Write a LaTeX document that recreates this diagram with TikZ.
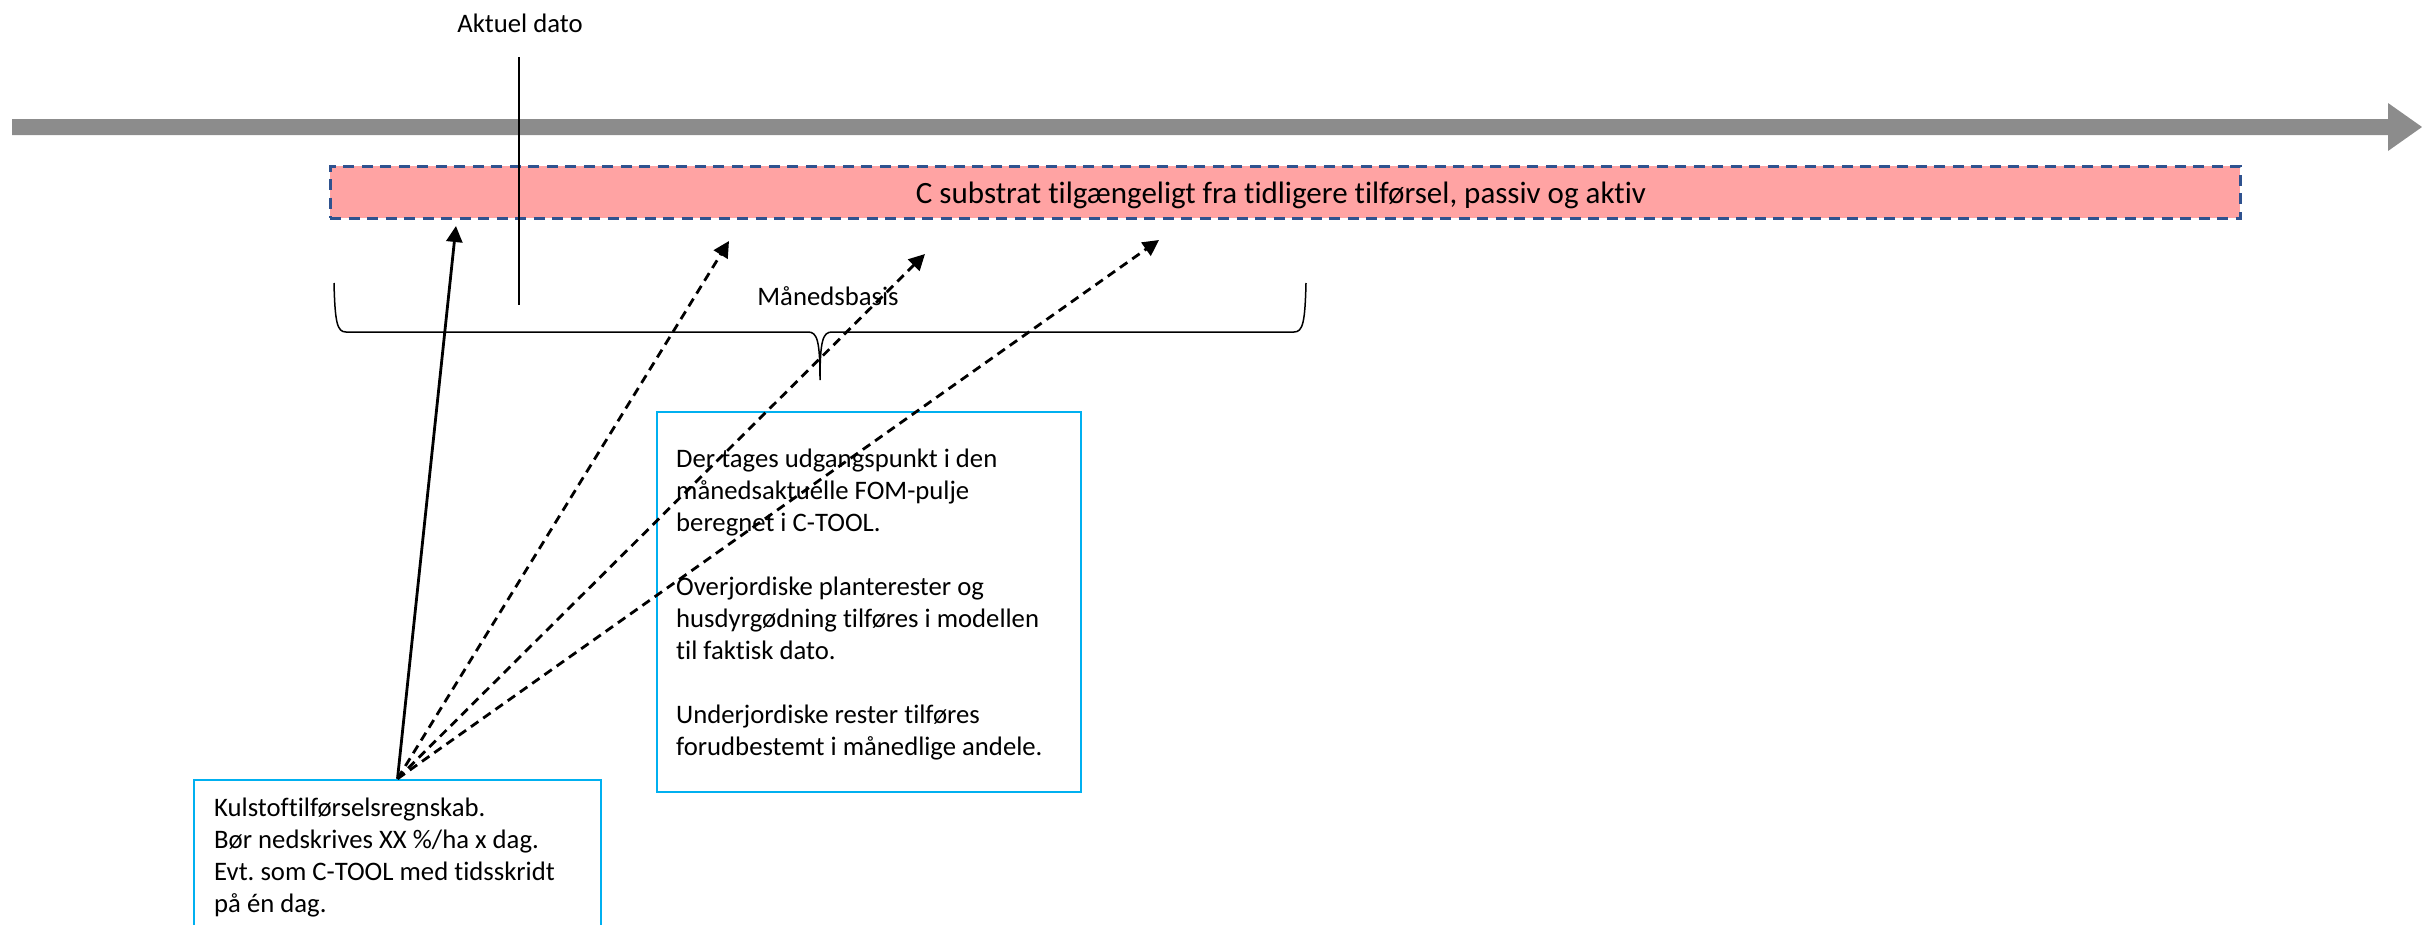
\documentclass[tikz,border=0pt]{standalone}
\usepackage{fontspec}
\setmainfont{Carlito}[Ligatures=NoCommon]
\frenchspacing
\usetikzlibrary{arrows.meta}
\definecolor{axisgray}{HTML}{8C8C8C}
\definecolor{subpink}{HTML}{FFA3A3}
\definecolor{dashblue}{HTML}{2F528F}
\definecolor{boxcyan}{HTML}{00B0F0}
\tikzset{
  lbl/.style={font=\fontsize{26.7}{32}\selectfont, inner sep=0pt, anchor=base},
  bigl/.style={font=\fontsize{31}{37}\selectfont, inner sep=0pt, anchor=base},
  pinkbox/.style={draw=dashblue, fill=subpink, line width=3pt, dash pattern=on 11pt off 7.5pt, minimum width=1910pt, minimum height=52pt, inner sep=0pt},
  infobox/.style={draw=boxcyan, line width=2.5pt, inner sep=0pt},
  boxtext/.style={font=\fontsize{26.7}{32}\selectfont, inner sep=0pt, anchor=base west},
  arr/.style={line width=2.8pt, -{Triangle[length=16pt,width=16pt]}},
  darr/.style={arr, dash pattern=on 9pt off 6pt},
  thinl/.style={line width=1.3pt},
}
\begin{document}
\begin{tikzpicture}[x=1pt,y=-1pt]
\useasboundingbox (0,0) rectangle (2422,924);
% time axis
\fill[axisgray] (12,119) -- (2388,119) -- (2388,103) -- (2422,127) -- (2388,151) -- (2388,135) -- (12,135) -- cycle;
% substrate bar
\node[pinkbox] (csub) at (1285,192) {};
\node[bigl] (csubtxt) at (1281,203) {C substrat tilgængeligt fra tidligere tilførsel, passiv og aktiv};
% current date
\node[lbl] (now) at (520,32) {Aktuel dato};
\coordinate (nowtop) at (519,57);
\coordinate (nowbot) at (519,305);
\draw[thinl] (nowtop) -- (nowbot);
% brace
\coordinate (brl) at (334,283);
\coordinate (brr) at (1306,283);
\coordinate (brtip) at (820,380);
\draw[line width=1.5pt] (brl) .. controls (335,322) and (337,332) .. (346,332) -- (808,332)
   .. controls (817,332) and (820,340) .. (brtip)
   .. controls (820,340) and (823,332) .. (832,332) -- (1294,332)
   .. controls (1303,332) and (1305,322) .. (brr);
\node[lbl] (month) at (828,305) {Månedsbasis};
% info box 2
\node[infobox, minimum width=424pt, minimum height=380pt] (box2) at (869,602) {};
\node[boxtext] (box2txt) at (676,467) {\parbox[t]{400pt}{\raggedright
Der tages udgangspunkt i den\\
månedsaktuelle FOM-pulje\\
beregnet i C-TOOL.\\[32pt]
Overjordiske planterester og\\
husdyrgødning tilføres i modellen\\
til faktisk dato.\\[32pt]
Underjordiske rester tilføres\\
forudbestemt i månedlige andele.}};
% info box 1
\node[infobox, minimum width=407pt, minimum height=180pt] (box1) at (397.5,870) {};
\node[boxtext] (box1txt) at (214,816) {\parbox[t]{380pt}{\raggedright
Kulstoftilførselsregnskab.\\
Bør nedskrives XX \%/ha x dag.\\
Evt. som C-TOOL med tidsskridt\\
på én dag.}};
% arrows
\coordinate (t1) at (456,226);
\coordinate (t2) at (729,241);
\coordinate (t3) at (925,254);
\coordinate (t4) at (1159,240);
\draw[arr] (box1.north) -- (t1);
\draw[darr] (box1.north) -- (t2);
\draw[darr] (box1.north) -- (t3);
\draw[darr] (box1.north) -- (t4);
\end{tikzpicture}
\end{document}
